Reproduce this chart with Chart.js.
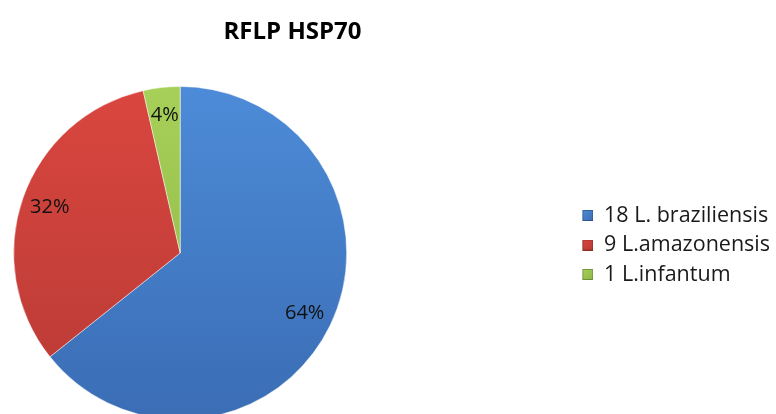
<!DOCTYPE html>
<html><head><meta charset="utf-8">
<script src="https://cdn.jsdelivr.net/npm/chart.js@4.4.1/dist/chart.umd.min.js"></script>
<style>
html,body{margin:0;padding:0;background:#fff;overflow:hidden;width:776px;height:414px;position:relative;}
#wrap{position:absolute;left:-195px;top:0;width:975px;height:420px;}
</style></head><body>
<div id="wrap"><canvas id="c" width="975" height="420"></canvas></div>
<script>
// ---- data ----
const chartTitle = 'RFLP HSP70';
const categories = ['18 L. braziliensis', '9 L.amazonensis', '1 L.infantum'];
const counts = [18, 9, 1];

// ---- styles ----
const topColors = ['#4d8bd8', '#d9463f', '#a6d058'];
const bottomColors = ['#3a6db4', '#b93a35', '#8db646'];
const FONT = '"Open Sans", "DejaVu Sans", sans-serif';
const LEGEND_FONT_SIZE = 21.5;
const LEGEND_PAD = 8;
const LEGEND_WIDTH = 225;

// measure legend text to size the marker slot
const mctx = document.createElement('canvas').getContext('2d');
mctx.font = LEGEND_FONT_SIZE + 'px ' + FONT;
const maxTextW = Math.max(...categories.map(t => mctx.measureText(t).width));
const markerW = Math.max(12, Math.round(LEGEND_WIDTH - LEGEND_PAD - LEGEND_FONT_SIZE / 2 - 10 - maxTextW));

function makeMarker(i) {
  const c = document.createElement('canvas');
  c.width = markerW; c.height = 11;
  const g = c.getContext('2d');
  const x0 = markerW - 11;
  const grad = g.createLinearGradient(x0, 0, x0 + 11, 11);
  grad.addColorStop(0, topColors[i]);
  grad.addColorStop(1, bottomColors[i]);
  g.fillStyle = grad;
  g.fillRect(x0, 0, 11, 11);
  g.strokeStyle = 'rgba(0,0,0,0.25)';
  g.lineWidth = 1;
  g.strokeRect(x0 + 0.5, 0.5, 10, 10);
  return c;
}
const markers = categories.map((_, i) => makeMarker(i));

function sliceFill(c) {
  const i = c.dataIndex;
  const chart = c.chart;
  const area = chart.chartArea;
  if (!area || i === undefined) return topColors[i || 0];
  const g = chart.ctx.createLinearGradient(0, area.top, 0, area.bottom);
  g.addColorStop(0, topColors[i]);
  g.addColorStop(1, bottomColors[i]);
  return g;
}

const pctLabels = {
  id: 'pctLabels',
  afterDatasetsDraw(chart) {
    const ctx = chart.ctx;
    const meta = chart.getDatasetMeta(0);
    const data = chart.data.datasets[0].data;
    const total = data.reduce((a, b) => a + b, 0);
    ctx.save();
    ctx.font = '20px ' + FONT;
    ctx.fillStyle = '#111111';
    ctx.textAlign = 'center';
    ctx.textBaseline = 'middle';
    meta.data.forEach((arc, i) => {
      const p = arc.getProps(['x', 'y', 'startAngle', 'endAngle', 'outerRadius'], true);
      const mid = (p.startAngle + p.endAngle) / 2;
      const r = p.outerRadius * 0.83;
      ctx.fillText(Math.round(data[i] / total * 100) + '%', p.x + Math.cos(mid) * r, p.y + Math.sin(mid) * r);
    });
    ctx.restore();
  }
};

new Chart(document.getElementById('c'), {
  type: 'pie',
  data: {
    labels: categories,
    datasets: [{
      data: counts,
      backgroundColor: sliceFill,
      borderColor: 'rgba(255,255,255,0.45)',
      borderWidth: 1
    }]
  },
  options: {
    responsive: false,
    animation: false,
    layout: { padding: { left: 0, right: 0, top: 0, bottom: 0 } },
    plugins: {
      tooltip: { enabled: false },
      title: {
        display: true,
        text: chartTitle,
        color: '#000000',
        font: { family: FONT, size: 24, weight: 'bold', lineHeight: 1.2 },
        padding: { top: 17.3, bottom: 39.9 }
      },
      legend: {
        position: 'right',
        align: 'start',
        fullSize: false,
        title: { display: true, text: '', padding: { top: 96.35, bottom: 0 }, font: { size: 12, lineHeight: 1.2 } },
        labels: {
          color: '#1a1a1a',
          font: { family: FONT, size: LEGEND_FONT_SIZE },
          padding: LEGEND_PAD,
          boxHeight: 11,
          usePointStyle: true,
          pointStyleWidth: markerW,
          generateLabels(chart) {
            const items = Chart.overrides.pie.plugins.legend.labels.generateLabels(chart);
            items.forEach((it, i) => { it.pointStyle = markers[i]; });
            return items;
          }
        }
      }
    }
  },
  plugins: [pctLabels]
});
</script>
</body></html>
